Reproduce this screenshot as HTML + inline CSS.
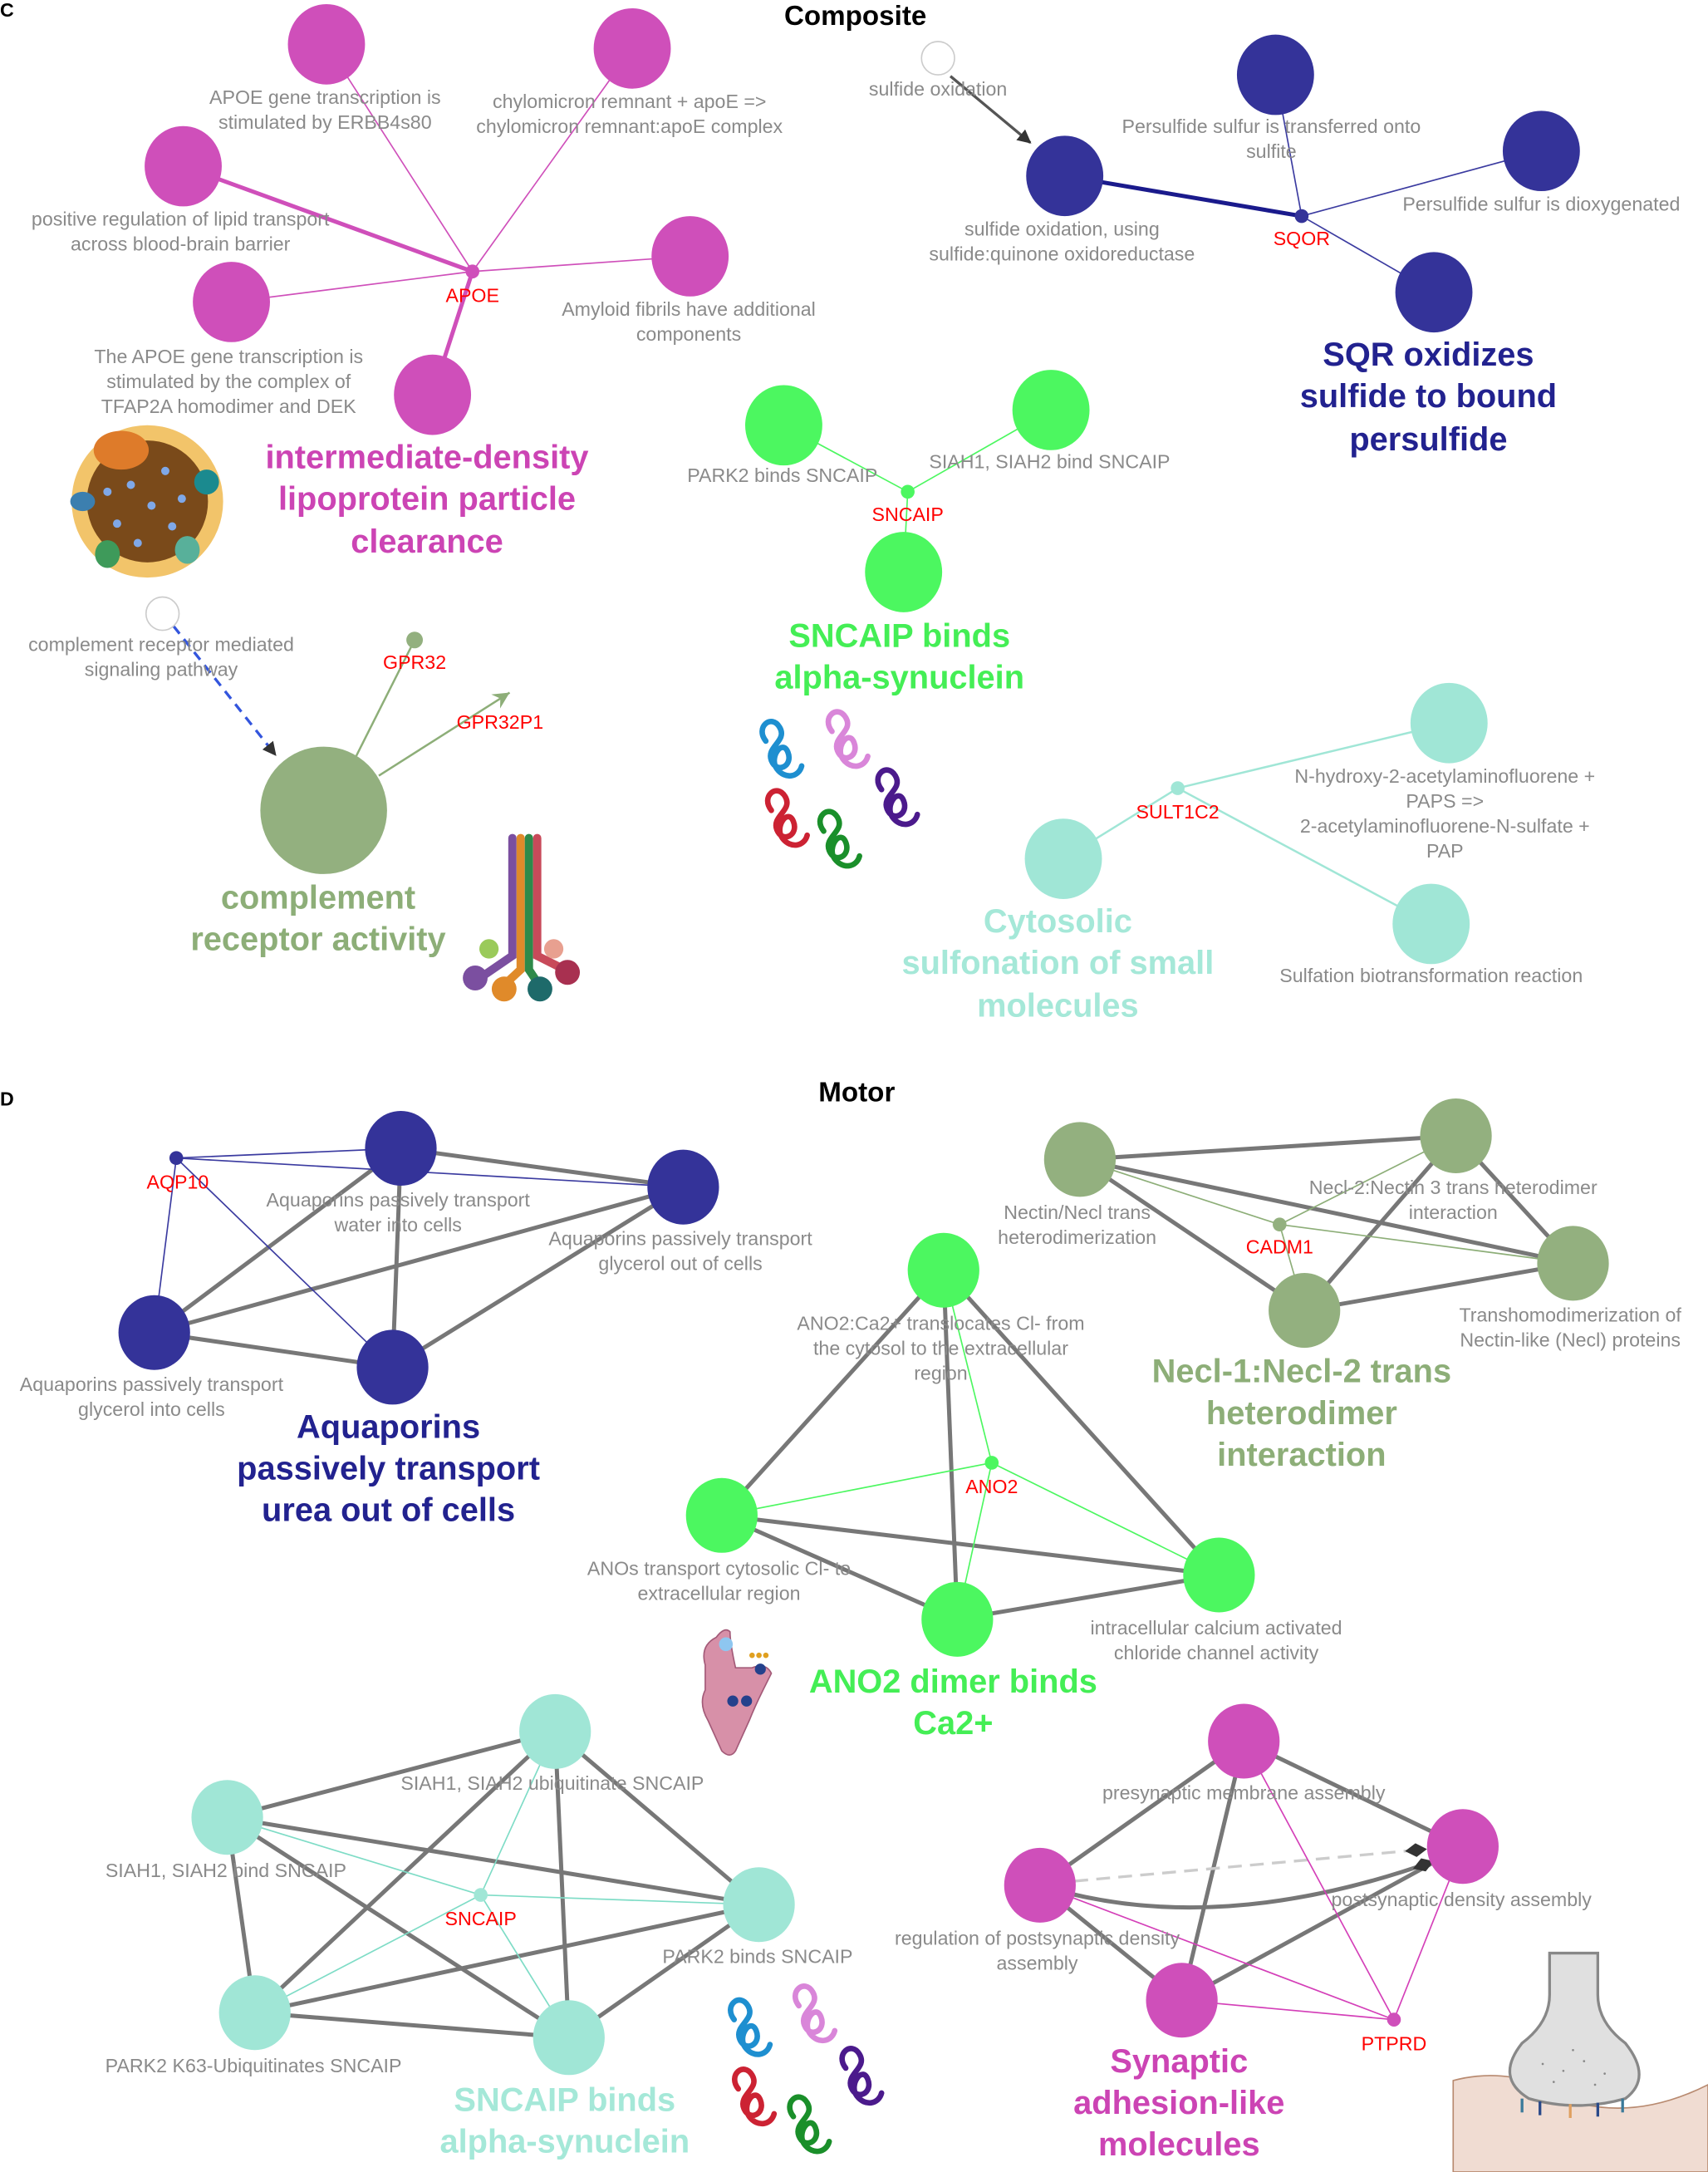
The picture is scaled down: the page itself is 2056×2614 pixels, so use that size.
<!DOCTYPE html>
<html><head><meta charset="utf-8"><style>
html,body{margin:0;padding:0;background:#fff}
svg{display:block}
text{font-family:"Liberation Sans",Arial,sans-serif}
.l{font-size:14px;fill:#8a8a8a;text-anchor:middle}
.r{font-size:14px;fill:#ff0000;text-anchor:middle}
.t{font-size:24px;font-weight:bold;text-anchor:middle}
.g{stroke:#777;stroke-width:3;fill:none}
</style></head><body>
<svg width="2056" height="2614" viewBox="0 0 1240 1568" preserveAspectRatio="none" xmlns="http://www.w3.org/2000/svg">
<defs>
<g id="sq"><path d="M0,0 c-8,-10 4,-20 10,-10 c6,10 -10,14 -6,24 c4,10 16,4 12,-6 c-4,-10 -14,4 -8,12 c6,8 16,6 18,-2" fill="none" stroke-width="4" stroke-linecap="round"/></g>
<marker id="ah" markerWidth="10" markerHeight="10" refX="9" refY="5" orient="auto" markerUnits="userSpaceOnUse"><path d="M0,0 L10,5 L0,10 z" fill="#333"/></marker>
<marker id="ah2" markerWidth="14" markerHeight="14" refX="12" refY="7" orient="auto" markerUnits="userSpaceOnUse"><path d="M0,1 L12,7 L0,13 L4,7 z" fill="#8DAE78"/></marker>
<marker id="dm" markerWidth="16" markerHeight="10" refX="15" refY="5" orient="auto" markerUnits="userSpaceOnUse"><path d="M0,5 L8,0 L16,5 L8,10 z" fill="#333"/></marker>
</defs>

<!-- Panel C -->
<text x="0" y="12" style="font-size:14px;font-weight:bold">C</text>
<text x="621" y="18" style="font-size:20px;font-weight:bold;text-anchor:middle">Composite</text>

<!-- APOE -->
<g stroke="#CF4FBA" fill="none">
<line x1="343" y1="196" x2="237" y2="32" stroke-width="1"/>
<line x1="343" y1="196" x2="459" y2="35" stroke-width="1"/>
<line x1="343" y1="196" x2="133" y2="120" stroke-width="3"/>
<line x1="343" y1="196" x2="501" y2="185" stroke-width="1"/>
<line x1="343" y1="196" x2="168" y2="218" stroke-width="1"/>
<line x1="343" y1="196" x2="314" y2="285" stroke-width="3"/>
</g>
<g fill="#CF4FBA">
<ellipse cx="237" cy="32" rx="28" ry="29"/><ellipse cx="459" cy="35" rx="28" ry="29"/>
<ellipse cx="133" cy="120" rx="28" ry="29"/><ellipse cx="501" cy="185" rx="28" ry="29"/>
<ellipse cx="168" cy="218" rx="28" ry="29"/><ellipse cx="314" cy="285" rx="28" ry="29"/>
<circle cx="343" cy="196" r="5"/>
</g>
<text class="l" x="236" y="75">APOE gene transcription is</text><text class="l" x="236" y="93">stimulated by ERBB4s80</text>
<text class="l" x="457" y="78">chylomicron remnant + apoE =&gt;</text><text class="l" x="457" y="96">chylomicron remnant:apoE complex</text>
<text class="l" x="131" y="163">positive regulation of lipid transport</text><text class="l" x="131" y="181">across blood-brain barrier</text>
<text class="l" x="500" y="228">Amyloid fibrils have additional</text><text class="l" x="500" y="246">components</text>
<text class="l" x="166" y="262">The APOE gene transcription is</text><text class="l" x="166" y="280">stimulated by the complex of</text><text class="l" x="166" y="298">TFAP2A homodimer and DEK</text>
<text class="r" x="343" y="218">APOE</text>
<g class="t" fill="#CC44B4"><text class="t" x="310" y="338">intermediate-density</text><text class="t" x="310" y="368">lipoprotein particle</text><text class="t" x="310" y="399">clearance</text></g>
<!-- lipoprotein icon -->
<circle cx="107" cy="362" r="55" fill="#F2C46A"/>
<circle cx="107" cy="362" r="44" fill="#7A4A1A"/>
<ellipse cx="88" cy="325" rx="20" ry="14" fill="#DE7B2A"/>
<ellipse cx="150" cy="348" rx="9" ry="9" fill="#1B8A8F"/>
<ellipse cx="60" cy="362" rx="9" ry="7" fill="#3C7FAF"/>
<ellipse cx="78" cy="400" rx="9" ry="10" fill="#3E9A5A"/>
<ellipse cx="136" cy="397" rx="9" ry="10" fill="#58B09A"/>
<g fill="#7FA8E8"><circle cx="95" cy="350" r="3"/><circle cx="110" cy="365" r="3"/><circle cx="120" cy="340" r="3"/><circle cx="85" cy="378" r="3"/><circle cx="125" cy="380" r="3"/><circle cx="100" cy="392" r="3"/><circle cx="132" cy="360" r="3"/><circle cx="78" cy="355" r="3"/></g>

<!-- SQOR -->
<line x1="690" y1="55" x2="748" y2="103" stroke="#555" stroke-width="2" marker-end="url(#ah)"/>
<circle cx="681" cy="42" r="12" fill="#fff" stroke="#ccc"/>
<text class="l" x="681" y="69">sulfide oxidation</text>
<g stroke="#3B3BA0" fill="none">
<line x1="773" y1="127" x2="945" y2="156" stroke-width="3" stroke="#1A1A8C"/>
<line x1="945" y1="156" x2="926" y2="54" stroke-width="1"/>
<line x1="945" y1="156" x2="1119" y2="109" stroke-width="1"/>
<line x1="945" y1="156" x2="1041" y2="211" stroke-width="1"/>
</g>
<g fill="#343399">
<ellipse cx="773" cy="127" rx="28" ry="29"/><ellipse cx="926" cy="54" rx="28" ry="29"/>
<ellipse cx="1119" cy="109" rx="28" ry="29"/><ellipse cx="1041" cy="211" rx="28" ry="29"/>
<circle cx="945" cy="156" r="5"/>
</g>
<text class="l" x="923" y="96">Persulfide sulfur is transferred onto</text><text class="l" x="923" y="114">sulfite</text>
<text class="l" x="1119" y="152">Persulfide sulfur is dioxygenated</text>
<text class="l" x="771" y="170">sulfide oxidation, using</text><text class="l" x="771" y="188">sulfide:quinone oxidoreductase</text>
<text class="r" x="945" y="177">SQOR</text>
<g fill="#22228F"><text class="t" x="1037" y="264">SQR oxidizes</text><text class="t" x="1037" y="294">sulfide to bound</text><text class="t" x="1037" y="325">persulfide</text></g>

<!-- SNCAIP C -->
<g stroke="#4CF760" stroke-width="1"><line x1="659" y1="355" x2="569" y2="307"/><line x1="659" y1="355" x2="763" y2="296"/><line x1="659" y1="355" x2="656" y2="413"/></g>
<g fill="#4CF760"><ellipse cx="569" cy="307" rx="28" ry="29"/><ellipse cx="763" cy="296" rx="28" ry="29"/><ellipse cx="656" cy="413" rx="28" ry="29"/><circle cx="659" cy="355" r="5"/></g>
<text class="l" x="568" y="348">PARK2 binds SNCAIP</text>
<text class="l" x="762" y="338">SIAH1, SIAH2 bind SNCAIP</text>
<text class="r" x="659" y="376">SNCAIP</text>
<g fill="#44EE55"><text class="t" x="653" y="467">SNCAIP binds</text><text class="t" x="653" y="497">alpha-synuclein</text></g>
<use href="#sq" x="556" y="535" stroke="#1E8FD0"/>
<use href="#sq" x="604" y="528" stroke="#D986D9"/>
<use href="#sq" x="560" y="585" stroke="#CC2233"/>
<use href="#sq" x="640" y="570" stroke="#4B1A8C"/>
<use href="#sq" x="598" y="600" stroke="#1A8F2A"/>

<!-- complement -->
<line x1="126" y1="452" x2="200" y2="545" stroke="#3355DD" stroke-width="2" stroke-dasharray="7,5" marker-end="url(#ah)"/>
<circle cx="118" cy="443" r="12" fill="#fff" stroke="#ccc"/>
<text class="l" x="117" y="470">complement receptor mediated</text><text class="l" x="117" y="488">signaling pathway</text>
<line x1="258" y1="547" x2="301" y2="462" stroke="#8DAE78" stroke-width="1.5"/>
<line x1="275" y1="560" x2="370" y2="500" stroke="#8DAE78" stroke-width="1.5" marker-end="url(#ah2)"/>
<circle cx="235" cy="585" r="46" fill="#93B07F"/>
<circle cx="301" cy="462" r="6" fill="#93B07F"/>
<text class="r" x="301" y="483">GPR32</text>
<text class="r" x="363" y="526">GPR32P1</text>
<g fill="#8DAE78"><text class="t" x="231" y="656">complement</text><text class="t" x="231" y="686">receptor activity</text></g>
<!-- receptor icon -->
<g stroke-width="6" fill="none" stroke-linecap="round">
<path d="M372,605 L372,690 L350,705" stroke="#7B4FA0"/>
<path d="M378,605 L378,700 L365,712" stroke="#E08A2A"/>
<path d="M384,605 L384,700 L392,712" stroke="#2E8A4A"/>
<path d="M390,605 L390,690 L410,700" stroke="#C84A5A"/>
</g>
<circle cx="345" cy="706" r="9" fill="#7B4FA0"/><circle cx="366" cy="714" r="9" fill="#E08A2A"/><circle cx="392" cy="714" r="9" fill="#1E6A6A"/><circle cx="412" cy="702" r="9" fill="#A83050"/>
<circle cx="355" cy="685" r="7" fill="#9ACA5A"/><circle cx="402" cy="685" r="7" fill="#E8A090"/>

<!-- Cytosolic -->
<g stroke="#A0E6D6" stroke-width="1.5"><line x1="855" y1="569" x2="1052" y2="522"/><line x1="855" y1="569" x2="772" y2="620"/><line x1="855" y1="569" x2="1039" y2="667"/></g>
<g fill="#A0E6D6"><ellipse cx="1052" cy="522" rx="28" ry="29"/><ellipse cx="772" cy="620" rx="28" ry="29"/><ellipse cx="1039" cy="667" rx="28" ry="29"/><circle cx="855" cy="569" r="5"/></g>
<text class="l" x="1049" y="565">N-hydroxy-2-acetylaminofluorene +</text><text class="l" x="1049" y="583">PAPS =&gt;</text><text class="l" x="1049" y="601">2-acetylaminofluorene-N-sulfate +</text><text class="l" x="1049" y="619">PAP</text>
<text class="r" x="855" y="591">SULT1C2</text>
<text class="l" x="1039" y="709">Sulfation biotransformation reaction</text>
<g fill="#A5E8D8"><text class="t" x="768" y="673">Cytosolic</text><text class="t" x="768" y="703">sulfonation of small</text><text class="t" x="768" y="734">molecules</text></g>

<!-- Panel D -->
<text x="0" y="798" style="font-size:14px;font-weight:bold">D</text>
<text x="622" y="795" style="font-size:20px;font-weight:bold;text-anchor:middle">Motor</text>

<!-- Aquaporins -->
<g class="g"><line x1="291" y1="829" x2="496" y2="857"/><line x1="291" y1="829" x2="112" y2="962"/><line x1="291" y1="829" x2="285" y2="987"/><line x1="496" y1="857" x2="112" y2="962"/><line x1="496" y1="857" x2="285" y2="987"/><line x1="112" y1="962" x2="285" y2="987"/></g>
<g stroke="#3B3BA0" stroke-width="1"><line x1="128" y1="836" x2="291" y2="829"/><line x1="128" y1="836" x2="496" y2="857"/><line x1="128" y1="836" x2="112" y2="962"/><line x1="128" y1="836" x2="285" y2="987"/></g>
<g fill="#343399"><ellipse cx="291" cy="829" rx="26" ry="27"/><ellipse cx="496" cy="857" rx="26" ry="27"/><ellipse cx="112" cy="962" rx="26" ry="27"/><ellipse cx="285" cy="987" rx="26" ry="27"/><circle cx="128" cy="836" r="5"/></g>
<text class="r" x="129" y="858">AQP10</text>
<text class="l" x="289" y="871">Aquaporins passively transport</text><text class="l" x="289" y="889">water into cells</text>
<text class="l" x="494" y="899">Aquaporins passively transport</text><text class="l" x="494" y="917">glycerol out of cells</text>
<text class="l" x="110" y="1004">Aquaporins passively transport</text><text class="l" x="110" y="1022">glycerol into cells</text>
<g fill="#22228F"><text class="t" x="282" y="1038">Aquaporins</text><text class="t" x="282" y="1068">passively transport</text><text class="t" x="282" y="1098">urea out of cells</text></g>

<!-- Necl -->
<g class="g"><line x1="784" y1="837" x2="1057" y2="820"/><line x1="784" y1="837" x2="1142" y2="912"/><line x1="784" y1="837" x2="947" y2="946"/><line x1="1057" y1="820" x2="947" y2="946"/><line x1="1057" y1="820" x2="1142" y2="912"/><line x1="947" y1="946" x2="1142" y2="912"/></g>
<g stroke="#8DAE78" stroke-width="1"><line x1="929" y1="884" x2="784" y2="837"/><line x1="929" y1="884" x2="1057" y2="820"/><line x1="929" y1="884" x2="1142" y2="912"/><line x1="929" y1="884" x2="947" y2="946"/></g>
<g fill="#93B07F"><ellipse cx="784" cy="837" rx="26" ry="27"/><ellipse cx="1057" cy="820" rx="26" ry="27"/><ellipse cx="1142" cy="912" rx="26" ry="27"/><ellipse cx="947" cy="946" rx="26" ry="27"/><circle cx="929" cy="884" r="5"/></g>
<text class="l" x="782" y="880">Nectin/Necl  trans</text><text class="l" x="782" y="898">heterodimerization</text>
<text class="l" x="1055" y="862">Necl-2:Nectin 3 trans heterodimer</text><text class="l" x="1055" y="880">interaction</text>
<text class="r" x="929" y="905">CADM1</text>
<text class="l" x="1140" y="954">Transhomodimerization of</text><text class="l" x="1140" y="972">Nectin-like (Necl) proteins</text>
<g fill="#8DAE78"><text class="t" x="945" y="998">Necl-1:Necl-2 trans</text><text class="t" x="945" y="1028">heterodimer</text><text class="t" x="945" y="1058">interaction</text></g>

<!-- ANO2 -->
<g class="g"><line x1="685" y1="917" x2="524" y2="1094"/><line x1="685" y1="917" x2="695" y2="1169"/><line x1="685" y1="917" x2="885" y2="1137"/><line x1="524" y1="1094" x2="695" y2="1169"/><line x1="524" y1="1094" x2="885" y2="1137"/><line x1="695" y1="1169" x2="885" y2="1137"/></g>
<g stroke="#4CF760" stroke-width="1"><line x1="720" y1="1056" x2="685" y2="917"/><line x1="720" y1="1056" x2="524" y2="1094"/><line x1="720" y1="1056" x2="695" y2="1169"/><line x1="720" y1="1056" x2="885" y2="1137"/></g>
<g fill="#4CF760"><ellipse cx="685" cy="917" rx="26" ry="27"/><ellipse cx="524" cy="1094" rx="26" ry="27"/><ellipse cx="695" cy="1169" rx="26" ry="27"/><ellipse cx="885" cy="1137" rx="26" ry="27"/><circle cx="720" cy="1056" r="5"/></g>
<text class="l" x="683" y="960">ANO2:Ca2+ translocates Cl- from</text><text class="l" x="683" y="978">the cytosol to the extracellular</text><text class="l" x="683" y="996">region</text>
<text class="r" x="720" y="1078">ANO2</text>
<text class="l" x="522" y="1137">ANOs transport cytosolic Cl- to</text><text class="l" x="522" y="1155">extracellular region</text>
<text class="l" x="883" y="1180">intracellular calcium activated</text><text class="l" x="883" y="1198">chloride channel activity</text>
<g fill="#44EE55"><text class="t" x="692" y="1222">ANO2 dimer binds</text><text class="t" x="692" y="1252">Ca2+</text></g>
<!-- ANO icon -->
<path d="M520,1182 q-12,6 -8,20 l0,18 q-5,10 2,22 l10,22 q6,6 10,0 l10,-22 q4,-10 10,-22 l6,-12 q-4,-8 -14,-4 l-12,0 q-4,-18 -4,-26 q-4,-4 -10,4 z" fill="#D790A8" stroke="#A35A78"/>
<circle cx="527" cy="1187" r="5" fill="#8EC6F0"/><circle cx="552" cy="1205" r="4" fill="#24418C"/>
<circle cx="532" cy="1228" r="4" fill="#24418C"/><circle cx="542" cy="1228" r="4" fill="#24418C"/>
<g fill="#E0A020"><circle cx="546" cy="1195" r="2"/><circle cx="551" cy="1195" r="2"/><circle cx="556" cy="1195" r="2"/></g>

<!-- SNCAIP D -->
<g class="g">
<line x1="403" y1="1250" x2="165" y2="1312"/><line x1="403" y1="1250" x2="551" y2="1375"/><line x1="403" y1="1250" x2="185" y2="1453"/><line x1="403" y1="1250" x2="413" y2="1471"/>
<line x1="165" y1="1312" x2="551" y2="1375"/><line x1="165" y1="1312" x2="185" y2="1453"/><line x1="165" y1="1312" x2="413" y2="1471"/>
<line x1="551" y1="1375" x2="185" y2="1453"/><line x1="551" y1="1375" x2="413" y2="1471"/><line x1="185" y1="1453" x2="413" y2="1471"/>
</g>
<g stroke="#7EDCC6" stroke-width="1"><line x1="349" y1="1368" x2="403" y2="1250"/><line x1="349" y1="1368" x2="165" y2="1312"/><line x1="349" y1="1368" x2="551" y2="1375"/><line x1="349" y1="1368" x2="185" y2="1453"/><line x1="349" y1="1368" x2="413" y2="1471"/></g>
<g fill="#A0E6D6"><ellipse cx="403" cy="1250" rx="26" ry="27"/><ellipse cx="165" cy="1312" rx="26" ry="27"/><ellipse cx="551" cy="1375" rx="26" ry="27"/><ellipse cx="185" cy="1453" rx="26" ry="27"/><ellipse cx="413" cy="1471" rx="26" ry="27"/><circle cx="349" cy="1368" r="5"/></g>
<text class="l" x="401" y="1292">SIAH1, SIAH2 ubiquitinate SNCAIP</text>
<text class="l" x="164" y="1355">SIAH1, SIAH2 bind SNCAIP</text>
<text class="r" x="349" y="1390">SNCAIP</text>
<text class="l" x="550" y="1417">PARK2 binds SNCAIP</text>
<text class="l" x="184" y="1496">PARK2 K63-Ubiquitinates SNCAIP</text>
<g fill="#A5E8D8"><text class="t" x="410" y="1524">SNCAIP binds</text><text class="t" x="410" y="1554">alpha-synuclein</text></g>
<use href="#sq" x="533" y="1458" stroke="#1E8FD0"/>
<use href="#sq" x="580" y="1448" stroke="#D986D9"/>
<use href="#sq" x="536" y="1508" stroke="#CC2233"/>
<use href="#sq" x="614" y="1493" stroke="#4B1A8C"/>
<use href="#sq" x="576" y="1528" stroke="#1A8F2A"/>

<!-- Synaptic -->
<g class="g"><line x1="903" y1="1257" x2="755" y2="1361"/><line x1="903" y1="1257" x2="1062" y2="1333"/><line x1="903" y1="1257" x2="858" y2="1444"/><line x1="755" y1="1361" x2="858" y2="1444"/><line x1="858" y1="1444" x2="1062" y2="1333"/></g>
<path d="M755,1361 Q880,1400 1040,1344" stroke="#777" stroke-width="3" fill="none" marker-end="url(#dm)"/>
<line x1="780" y1="1358" x2="1035" y2="1335" stroke="#ccc" stroke-width="2" stroke-dasharray="10,6" marker-end="url(#dm)"/>
<g stroke="#D43FB8" stroke-width="1"><line x1="1012" y1="1458" x2="903" y2="1257"/><line x1="1012" y1="1458" x2="1062" y2="1333"/><line x1="1012" y1="1458" x2="755" y2="1361"/><line x1="1012" y1="1458" x2="858" y2="1444"/></g>
<g fill="#CF4FBA"><ellipse cx="903" cy="1257" rx="26" ry="27"/><ellipse cx="755" cy="1361" rx="26" ry="27"/><ellipse cx="1062" cy="1333" rx="26" ry="27"/><ellipse cx="858" cy="1444" rx="26" ry="27"/><circle cx="1012" cy="1458" r="5"/></g>
<text class="l" x="903" y="1299">presynaptic membrane assembly</text>
<text class="l" x="1061" y="1376">postsynaptic density assembly</text>
<text class="l" x="753" y="1404">regulation of postsynaptic density</text><text class="l" x="753" y="1422">assembly</text>
<text class="r" x="1012" y="1480">PTPRD</text>
<g fill="#CC44B4"><text class="t" x="856" y="1496">Synaptic</text><text class="t" x="856" y="1526">adhesion-like</text><text class="t" x="856" y="1556">molecules</text></g>
<!-- synapse icon -->
<path d="M1055,1502 Q1100,1490 1145,1518 Q1190,1530 1240,1505 L1240,1568 L1055,1568 Z" fill="#F0DCD2" stroke="#B88A70"/>
<path d="M1125,1410 L1125,1440 Q1125,1460 1105,1475 Q1085,1500 1110,1515 Q1145,1525 1180,1515 Q1200,1500 1180,1475 Q1160,1460 1160,1440 L1160,1410 Z" fill="#E0E0E0" stroke="#888" stroke-width="2"/>
<g fill="#888"><circle cx="1120" cy="1490" r="0.8"/><circle cx="1135" cy="1495" r="0.8"/><circle cx="1150" cy="1488" r="0.8"/><circle cx="1165" cy="1497" r="0.8"/><circle cx="1128" cy="1503" r="0.8"/><circle cx="1158" cy="1505" r="0.8"/><circle cx="1142" cy="1480" r="0.8"/></g>
<g stroke-width="2"><line x1="1105" y1="1515" x2="1105" y2="1525" stroke="#3B7A9A"/><line x1="1118" y1="1517" x2="1118" y2="1527" stroke="#2A4A8A"/><line x1="1140" y1="1519" x2="1140" y2="1529" stroke="#E0A060"/><line x1="1160" y1="1518" x2="1160" y2="1528" stroke="#2A4A8A"/><line x1="1178" y1="1515" x2="1178" y2="1525" stroke="#3B7A9A"/></g>
</svg>
</body></html>
